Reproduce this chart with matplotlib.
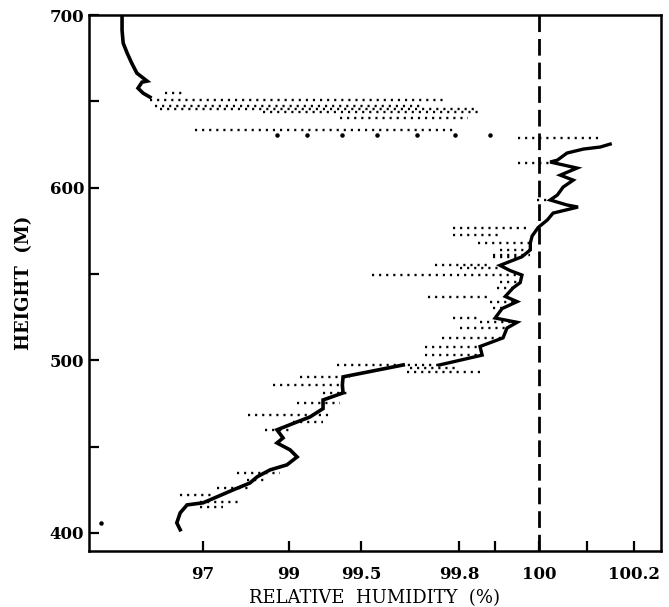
import numpy as np
import matplotlib.pyplot as plt

# the humidity axis is stretched near saturation: tick values sit at equal-ish spacing
RH_ANCHORS = [95.0, 97.0, 99.0, 99.5, 99.8, 99.9, 100.0, 100.1, 100.2, 100.3]
AXIS_POS = [89, 203, 289, 361, 459, 495, 539, 587, 634, 681]

tick_values = [97, 99, 99.5, 99.8, 99.9, 100, 100.1, 100.2]
tick_labels = ["97", "99", "99.5", "99.8", "", "100", "", "100.2"]

# main trace, bottom to top (height m, RH %)
lower_h = [401.8, 405.8, 411.6, 416.2, 417.4, 419.1, 424.9, 428.9, 432.5, 436.5,
           439.4, 444.0, 448.1, 452.1, 455.0, 459.7, 464.3, 467.2, 472.0, 477.0,
           481.1, 485.7, 490.4, 497.3]
lower_rh = [96.60, 96.54, 96.60, 96.72, 97.00, 97.16, 97.70, 98.09, 98.26, 98.56,
            98.95, 99.056, 99.007, 98.72, 98.86, 98.72, 99.056, 99.146, 99.236, 99.236,
            99.375, 99.37, 99.375, 99.629]

middle_h = [497.3, 503.0, 508.0, 513.0, 518.7, 522.0, 524.5, 530.0, 534.0, 537.0,
            542.0, 545.0, 549.4, 552.0, 555.0, 560.0, 564.0, 568.0, 572.0, 577.0,
            581.3, 585.3, 588.8, 590.0, 592.9, 595.8, 600.4, 604.4, 607.3, 611.4,
            614.9, 616.0, 620.1, 622.4, 623.6, 625.3]
middle_rh = [99.74, 99.864, 99.858, 99.918, 99.927, 99.95, 99.90, 99.916, 99.95, 99.923,
             99.941, 99.957, 99.961, 99.934, 99.911, 99.961, 99.98, 99.98, 99.984, 99.998,
             100.017, 100.029, 100.081, 100.058, 100.023, 100.038, 100.05, 100.071, 100.044, 100.079,
             100.023, 100.038, 100.058, 100.092, 100.128, 100.149]

upper_h = [652.5, 654.8, 657.7, 661.2, 661.8, 666.4, 672.2, 678.0, 683.8, 691.3, 700.0]
upper_rh = [96.07, 95.95, 95.86, 95.93, 96.02, 95.84, 95.75, 95.67, 95.60, 95.58, 95.58]

# horizontal streaks of scattered readings: height, RH start, RH end
streak_h = [654.8, 650.8, 647.5, 645.5, 643.8, 640.3, 633.4, 628.8, 614.3, 592.9,
            576.6, 572.6, 568.0, 563.9, 561.0, 559.8, 555.2, 553.5, 549.4, 545.3,
            541.9, 536.7, 533.8, 530.3, 524.5, 522.2, 518.7, 512.9, 507.7, 503.1,
            497.3, 495.5, 493.2, 490.4, 485.7, 481.1, 475.3, 468.3, 464.3, 459.7,
            434.8, 430.8, 426.1, 422.0, 418.0, 415.1]
streak_start = [96.33, 96.07, 96.16, 96.25, 98.40, 99.354, 96.86, 99.952, 99.952, 99.995,
                99.78, 99.78, 99.853, 99.911, 99.894, 99.894, 99.727, 99.803, 99.534, 99.911,
                99.905, 99.705, 99.886, 99.894, 99.78, 99.858, 99.803, 99.748, 99.696, 99.696,
                99.33, 99.65, 99.64, 99.076, 98.63, 99.236, 99.056, 98.05, 99.028, 98.44,
                97.79, 98.02, 97.33, 96.60, 96.95, 96.95]
streak_end = [96.65, 99.757, 99.68, 99.853, 99.853, 99.825, 99.786, 100.128, 100.029, 100.029,
              99.98, 99.911, 99.98, 99.98, 99.98, 99.961, 99.878, 99.911, 99.961, 99.957,
              99.941, 99.878, 99.95, 99.918, 99.858, 99.95, 99.927, 99.918, 99.858, 99.864,
              99.74, 99.79, 99.864, 99.42, 99.375, 99.41, 99.354, 99.285, 99.236, 99.007,
              98.79, 98.49, 98.09, 97.23, 97.86, 97.47]

# isolated readings just below the dry layer
dot_h = [630.5, 630.5, 630.5, 630.5, 630.5, 630.5, 630.5, 406.0]
dot_rh = [98.72, 99.125, 99.37, 99.55, 99.67, 99.786, 99.886, 95.21]


def fwd(x):
    return np.interp(x, RH_ANCHORS, AXIS_POS)


def inv(p):
    return np.interp(p, AXIS_POS, RH_ANCHORS)


plt.rcParams['font.family'] = ['DejaVu Serif']
fig = plt.figure(figsize=(6.69, 6.07), dpi=100)
ax = fig.add_axes([0.133, 0.0923, 0.855, 0.8827])
ax.set_xscale('function', functions=(fwd, inv))

for h, a, b in zip(streak_h, streak_start, streak_end):
    ax.plot([a, b], [h, h], color='black', lw=1.7, ls=(0, (0.9, 2.1)))

ax.plot(lower_rh, lower_h, color='black', lw=2.6, solid_joinstyle='miter')
ax.plot(middle_rh, middle_h, color='black', lw=2.4, solid_joinstyle='miter')
ax.plot(upper_rh, upper_h, color='black', lw=2.6, solid_joinstyle='miter')
ax.scatter(dot_rh, dot_h, s=5, color='black', zorder=3)

ax.axvline(100, color='black', lw=2, ls=(0, (6, 2.5)))

ax.set_xlim(95.0, 100.257)
ax.set_ylim(389.5, 700)
ax.set_xticks(tick_values)
ax.set_xticklabels(tick_labels)
ax.set_yticks([400, 500, 600, 700])
ax.set_yticks([450, 550, 650], minor=True)
ax.xaxis.set_minor_locator(plt.NullLocator())

ax.tick_params(axis='both', which='both', direction='in', length=7, width=1.6,
               labelsize=12)
ax.tick_params(axis='x', pad=11)
for lab in ax.get_xticklabels() + ax.get_yticklabels():
    lab.set_fontweight('bold')

for sp in ax.spines.values():
    sp.set_linewidth(1.8)

ax.set_xlabel("RELATIVE  HUMIDITY  (%)", fontsize=13, labelpad=4)
ax.set_ylabel("HEIGHT  (M)", fontsize=13, fontweight='bold', labelpad=12)

fig.savefig("out.png", dpi=100)
